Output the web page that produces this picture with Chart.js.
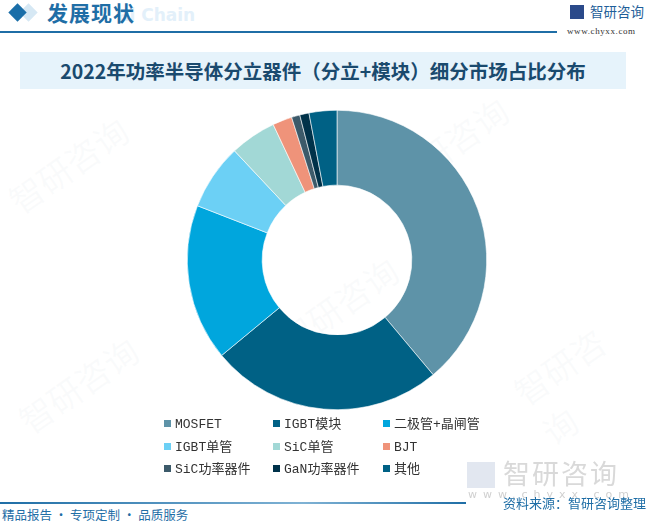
<!DOCTYPE html>
<html>
<head>
<meta charset="utf-8">
<script src="https://cdn.jsdelivr.net/npm/chart.js@4.4.0/dist/chart.umd.min.js"></script>
<style>
  body { margin: 0; width: 647px; height: 524px; overflow: hidden; background: #fff; position: relative;
         font-family: "Noto Sans CJK SC", "Noto Sans", sans-serif; }
  .abs { position: absolute; }
  #diamond { left: 11px; top: 6px; width: 13px; height: 13px; background: #1a6ea8; transform: rotate(45deg); }
  #diamond2 { left: 22px; top: 6px; width: 13px; height: 13px; background: #d6e8f4; transform: rotate(45deg); }
  #head { left: 47px; top: -3px; font-size: 21px; font-weight: bold; color: #1f6ea6; letter-spacing: 1px; line-height: 30px; }
  #headBg { left: 118px; top: 5px; font-size: 17px; font-weight: bold; color: #e3f0fa; font-family: "DejaVu Sans", sans-serif; }
  #headLine { left: 0; top: 31px; width: 557px; height: 2px; background: #1f6ea6; }
  #logoBox { left: 570px; top: 5px; width: 14px; height: 14px; background: #2b4a8a; }
  #logoTxt { left: 590px; top: 1px; font-size: 13.5px; color: #1f5f9a; }
  #url { left: 567px; top: 26px; font-size: 9px; color: #333; font-family: "Liberation Serif", serif; letter-spacing: 0.6px; }
  #titleBox { left: 20px; top: 52px; width: 606px; height: 37px; background: #e6f3fb; }
  #title { left: 20px; top: 52px; width: 606px; line-height: 38px; text-align: center; font-size: 19.5px; font-weight: bold; color: #1a4a6e; }
  #wrap { left: 37px; top: 100px; width: 600px; height: 320px; }
  #legend { left: 164px; top: 414px; width: 340px; }
  .item { position: absolute; font-size: 13px; color: #333; font-family: "Liberation Mono", "Noto Sans CJK SC", monospace; white-space: nowrap; line-height: 22px; }
  .box { display: inline-block; width: 7px; height: 7px; margin-right: 4px; vertical-align: 1px; }
  #footLine { left: 0; top: 502px; width: 466px; height: 2px; background: linear-gradient(to right, #1f6ea6, #7fb2d4 65%, #1f6ea6); }
  #foot { left: 2px; top: 505px; font-size: 12.5px; color: #1f6ea6; }
  #source { left: 503px; top: 493px; font-size: 13px; color: #1f6ea6; }
  #wmUrl { left: 468px; top: 488px; font-size: 11px; color: #d0d0d0; letter-spacing: 6px; font-family: "DejaVu Sans", sans-serif; }
  #wmLogo { left: 503px; top: 453px; font-size: 27px; color: #d9d9d9; letter-spacing: 2px; }
  #wmBox { left: 467px; top: 462px; width: 28px; height: 26px; background: #e2e7f0; }
  .wm { position: absolute; font-size: 34px; color: rgba(200, 210, 220, 0.09); transform: rotate(-35deg); }
</style>
</head>
<body>
<div class="wm" style="left:0px;top:140px;">智研咨询</div>
<div class="wm" style="left:380px;top:120px;">智研咨询</div>
<div class="wm" style="left:270px;top:280px;">智研咨询</div>
<div class="wm" style="left:10px;top:360px;">智研咨询</div>
<div class="wm" style="left:520px;top:330px;">智研咨询</div>

<div id="diamond2" class="abs"></div>
<div id="diamond" class="abs"></div>
<div id="headBg" class="abs">al Chain</div>
<div id="head" class="abs">发展现状</div>
<div id="headLine" class="abs"></div>
<div id="logoBox" class="abs"></div>
<div id="logoTxt" class="abs">智研咨询</div>
<div id="url" class="abs">www.chyxx.com</div>

<div id="titleBox" class="abs"></div>
<div id="title" class="abs">2022年功率半导体分立器件（分立+模块）细分市场占比分布</div>

<div id="wrap" class="abs"><canvas id="grafica"></canvas></div>
<div id="legend" class="abs"></div>

<div id="wmBox" class="abs"></div>
<div id="wmLogo" class="abs">智研咨询</div>
<div id="wmUrl" class="abs">www.chyxx.com</div>
<div id="footLine" class="abs"></div>
<div id="foot" class="abs">精品报告 · 专项定制 · 品质服务</div>
<div id="source" class="abs">资料来源：智研咨询整理</div>

<script>
// Datos del gráfico (porcentajes)
const categorias = ['MOSFET', 'IGBT模块', '二极管+晶闸管', 'IGBT单管', 'SiC单管', 'BJT', 'SiC功率器件', 'GaN功率器件', '其他'];
const valores = [38.9, 25.1, 16.9, 7.1, 5.0, 2.1, 0.9, 1.0, 3.0];
const colores = ['#5e93a8', '#006185', '#00a6dd', '#6cd0f5', '#a2d8d6', '#ef937a', '#3c5a6a', '#00324a', '#006185'];

const ctx = document.getElementById('grafica');
new Chart(ctx, {
    type: 'doughnut',
    data: {
        labels: categorias,
        datasets: [{
            data: valores,
            backgroundColor: colores,
            borderColor: '#fff',
            borderWidth: 0.6
        }]
    },
    options: {
        responsive: true,
        maintainAspectRatio: false,
        animation: false,
        cutout: '50%',
        layout: { padding: 10 },
        plugins: {
            legend: { display: false },
            tooltip: { enabled: false }
        }
    }
});

// Leyenda en 3 columnas
const legend = document.getElementById('legend');
const colX = [0, 109, 219];
categorias.forEach((cat, i) => {
    const el = document.createElement('div');
    el.className = 'item';
    el.style.left = colX[i % 3] + 'px';
    el.style.top = (Math.floor(i / 3) * 22.5) + 'px';
    el.innerHTML = '<span class="box" style="background:' + colores[i] + '"></span>' + cat;
    legend.appendChild(el);
});
</script>
</body>
</html>
